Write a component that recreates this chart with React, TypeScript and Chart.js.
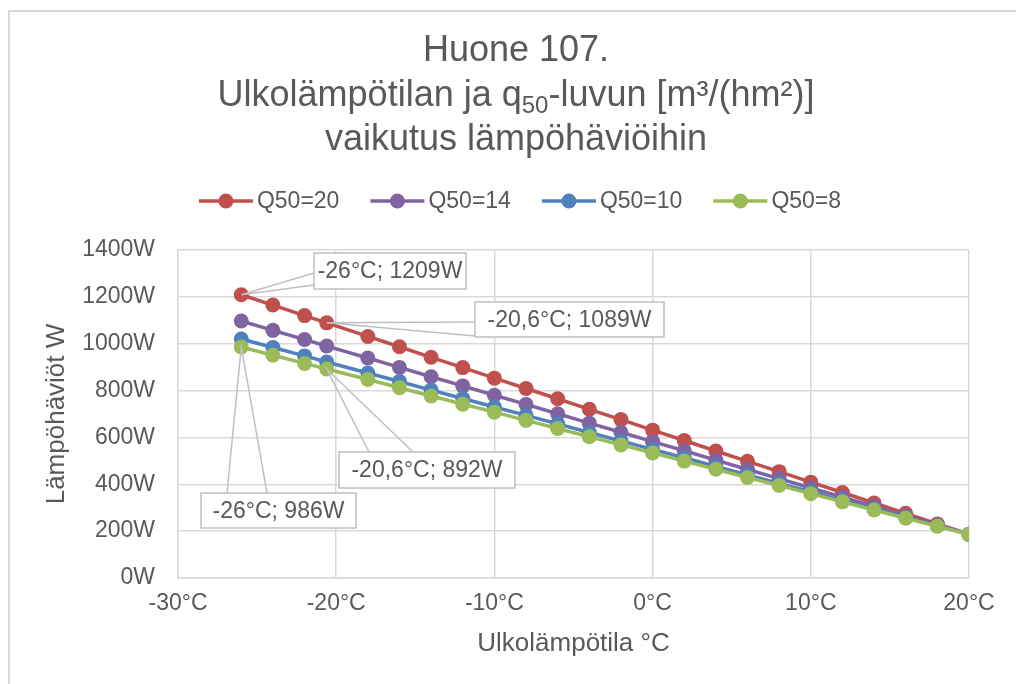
import React, { useEffect, useRef } from 'react';
import { Chart, registerables } from 'chart.js';

Chart.register(...registerables);

// ---- Data ----
const temps = [-26, -24, -22, -20.6, -18, -16, -14, -12, -10, -8, -6, -4, -2, 0, 2, 4, 6, 8, 10, 12, 14, 16, 18, 20];
const q20 = [1209, 1165, 1120, 1089, 1031, 987, 942, 898, 853, 809, 765, 720, 676, 631, 587, 542, 498, 454, 409, 365, 320, 276, 231, 187];
const q14 = [1097, 1057, 1018, 990, 939, 899, 859, 820, 780, 741, 701, 661, 622, 582, 543, 503, 463, 424, 384, 345, 305, 265, 226, 186];
const q10 = [1020, 984, 948, 922, 875, 839, 802, 766, 730, 694, 658, 621, 585, 549, 513, 476, 440, 404, 368, 331, 295, 259, 223, 187];
const q8 = [986, 951, 916, 892, 847, 812, 777, 742, 708, 673, 638, 603, 568, 534, 499, 464, 429, 395, 360, 325, 290, 255, 221, 186];
const seriesNames = ['Q50=20', 'Q50=14', 'Q50=10', 'Q50=8'];
const seriesValues = [q20, q14, q10, q8];
const seriesColors = ['#C0504D', '#8064A2', '#4F81BD', '#9BBB59'];

const xMin = -30;
const xMax = 20;
const xStep = 10;
const yMin = 0;
const yMax = 1400;
const yStep = 200;

const titleLine1 = 'Huone 107.';
const titleLine2a = 'Ulkolämpötilan ja q';
const titleLine2sub = '50';
const titleLine2b = '-luvun [m³/(hm²)]';
const titleLine3 = 'vaikutus lämpöhäviöihin';
const xTitle = 'Ulkolämpötila °C';
const yTitle = 'Lämpöhäviöt W';

// callouts: which series / point, and the box layout (pixels)
const callouts = [
  { ds: 0, idx: 0, box: [314, 253, 152, 36], side: 'left', b1: 273, b2: 285 },
  { ds: 0, idx: 3, box: [475, 302, 189, 35], side: 'left', b1: 322, b2: 336 },
  { ds: 3, idx: 0, box: [201, 493, 155, 35], side: 'top', b1: 227, b2: 267 },
  { ds: 3, idx: 3, box: [339, 452, 176, 36], side: 'top', b1: 369, b2: 413 },
];

const FONT = '"Liberation Sans", Arial, Helvetica, sans-serif';
const TEXT = '#595959';
const GRID = '#d9d9d9';

const fmtNum = (v: number) => String(v).replace('.', ',');

const framePlugin = {
  id: 'frame',
  beforeDraw(chart: any) {
    const ctx = chart.ctx;
    ctx.save();
    ctx.fillStyle = '#ffffff';
    ctx.fillRect(0, 0, chart.width, chart.height);
    ctx.strokeStyle = GRID;
    ctx.lineWidth = 2;
    ctx.strokeRect(9, 11, chart.width + 40, chart.height + 40);
    ctx.restore();
  },
};

const titleLegendPlugin = {
  id: 'titleLegend',
  afterDraw(chart: any) {
    const ctx = chart.ctx;
    ctx.save();
    ctx.fillStyle = TEXT;
    ctx.textBaseline = 'alphabetic';
    const cx = 516;
    const big = `36px ${FONT}`;
    const small = `24px ${FONT}`;
    ctx.font = big;
    ctx.textAlign = 'center';
    ctx.fillText(titleLine1, cx, 61);
    ctx.fillText(titleLine3, cx, 150);
    // line 2 with subscript
    ctx.textAlign = 'left';
    ctx.font = big;
    const wa = ctx.measureText(titleLine2a).width;
    const wb = ctx.measureText(titleLine2b).width;
    ctx.font = small;
    const ws = ctx.measureText(titleLine2sub).width;
    const total = wa + ws + wb;
    let x = cx - total / 2;
    const base2 = 106;
    ctx.font = big;
    ctx.fillText(titleLine2a, x, base2);
    x += wa;
    ctx.font = small;
    ctx.fillText(titleLine2sub, x, base2 + 7);
    x += ws;
    ctx.font = big;
    ctx.fillText(titleLine2b, x, base2);

    // legend
    const lfont = `23px ${FONT}`;
    ctx.font = lfont;
    const markW = 54;
    const gapMT = 4;
    const gapItem = 31;
    const widths = seriesNames.map((n) => ctx.measureText(n).width);
    const totalL = widths.reduce((a, w) => a + markW + gapMT + w, 0) + gapItem * (seriesNames.length - 1);
    let lx = 520 - totalL / 2;
    const ly = 201;
    ctx.textBaseline = 'middle';
    seriesNames.forEach((n, i) => {
      ctx.strokeStyle = seriesColors[i];
      ctx.lineWidth = 3.5;
      ctx.beginPath();
      ctx.moveTo(lx, ly);
      ctx.lineTo(lx + markW, ly);
      ctx.stroke();
      ctx.fillStyle = seriesColors[i];
      ctx.beginPath();
      ctx.arc(lx + markW / 2, ly, 7.5, 0, Math.PI * 2);
      ctx.fill();
      ctx.fillStyle = TEXT;
      ctx.textAlign = 'left';
      ctx.fillText(n, lx + markW + gapMT, ly + 1);
      lx += markW + gapMT + widths[i] + gapItem;
    });
    ctx.restore();
  },
};

const calloutPlugin = {
  id: 'callouts',
  afterDatasetsDraw(chart: any) {
    const ctx = chart.ctx;
    ctx.save();
    callouts.forEach((c) => {
      const pt = chart.getDatasetMeta(c.ds).data[c.idx];
      const px = pt.x;
      const py = pt.y;
      const [bx, by, bw, bh] = c.box;
      ctx.strokeStyle = '#bfbfbf';
      ctx.lineWidth = 1.5;
      ctx.beginPath();
      if (c.side === 'left') {
        ctx.moveTo(bx, c.b1);
        ctx.lineTo(px, py);
        ctx.lineTo(bx, c.b2);
      } else {
        ctx.moveTo(c.b1, by);
        ctx.lineTo(px, py);
        ctx.lineTo(c.b2, by);
      }
      ctx.stroke();
      ctx.fillStyle = '#ffffff';
      ctx.fillRect(bx, by, bw, bh);
      ctx.strokeRect(bx, by, bw, bh);
      const text = `${fmtNum(temps[c.idx])}°C; ${seriesValues[c.ds][c.idx]}W`;
      ctx.fillStyle = TEXT;
      ctx.font = `23px ${FONT}`;
      ctx.textAlign = 'center';
      ctx.textBaseline = 'middle';
      ctx.fillText(text, bx + bw / 2, by + bh / 2 + 1);
    });
    ctx.restore();
  },
};

export default function App() {
  const ref = useRef<HTMLCanvasElement | null>(null);
  useEffect(() => {
    if (!ref.current) return;
    const datasets = seriesNames.map((name, i) => ({
      label: name,
      data: temps.map((t, j) => ({ x: t, y: seriesValues[i][j] })),
      borderColor: seriesColors[i],
      backgroundColor: seriesColors[i],
      pointBackgroundColor: seriesColors[i],
      pointBorderColor: seriesColors[i],
      borderWidth: 3.5,
      pointRadius: 7.5,
      pointBorderWidth: 0,
      pointHoverRadius: 7.5,
      tension: 0,
      order: seriesNames.length - i,
    }));
    const chart = new Chart(ref.current, {
      type: 'line',
      data: { datasets },
      plugins: [framePlugin, calloutPlugin, titleLegendPlugin],
      options: {
        responsive: false,
        animation: false,
        devicePixelRatio: 1,
        layout: { padding: { top: 250, right: 47, left: 0, bottom: 0 } },
        plugins: {
          legend: { display: false },
          title: { display: false },
          tooltip: { enabled: false },
        },
        scales: {
          x: {
            type: 'linear',
            min: xMin,
            max: xMax,
            afterFit: (s: any) => { s.height = 106; },
            ticks: {
              stepSize: xStep,
              color: TEXT,
              font: { family: FONT, size: 23 },
              padding: 12,
              maxRotation: 0,
              callback: (v: any) => `${v}°C`,
            },
            grid: { color: GRID, lineWidth: 1.5, drawTicks: false },
            border: { color: GRID, width: 1.5 },
            title: {
              display: true,
              text: xTitle,
              color: TEXT,
              font: { family: FONT, size: 26 },
              padding: { top: 0, bottom: 25 },
            },
          },
          y: {
            type: 'linear',
            min: yMin,
            max: yMax,
            afterFit: (s: any) => { s.width = 178; },
            ticks: {
              stepSize: yStep,
              color: TEXT,
              font: { family: FONT, size: 23 },
              padding: 23,
              callback: (v: any) => `${v}W`,
            },
            grid: { color: GRID, lineWidth: 1.5, drawTicks: false },
            border: { color: GRID, width: 1.5 },
            title: {
              display: true,
              text: yTitle,
              color: TEXT,
              font: { family: FONT, size: 26 },
              padding: { top: 41, bottom: 0 },
            },
          },
        },
      },
    });
    return () => chart.destroy();
  }, []);
  return (
    <div style={{ position: 'fixed', left: 0, top: 0, width: 1016, height: 684, background: '#fff' }}>
      <canvas ref={ref} width={1016} height={684} style={{ display: 'block' }} />
    </div>
  );
}
